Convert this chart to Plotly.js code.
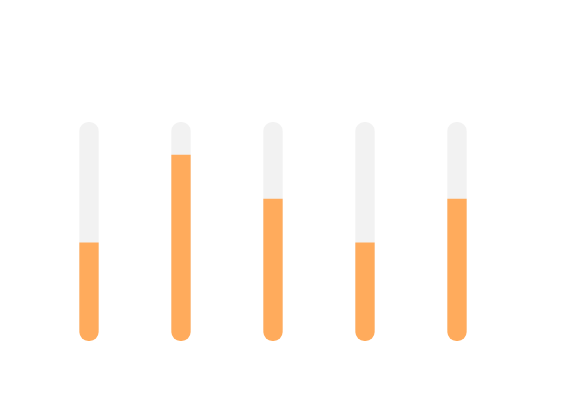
<!DOCTYPE html>
<html>
<head>
<meta charset="utf-8">
<script src="https://cdn.plot.ly/plotly-3.0.1.min.js"></script>
<style>html,body{margin:0;padding:0;background:#fff;}#chart{width:578px;height:408px;}</style>
</head>
<body>
<div id="chart"></div>
<script>
var categories = ['A', 'B', 'C', 'D', 'E'];
var values = [45, 85, 65, 45, 65];
var maxValue = 100;

// the axis is shifted by the height of the rounded bottom cap so that the
// cap can be drawn as a negative bar whose rounded end sits at value 0
var capH = 5;
var track = categories.map(function () { return maxValue - capH; });
var fill = values.map(function (v) { return v - capH; });
var cap = categories.map(function () { return -capH; });

var traces = [
  {
    type: 'bar', x: categories, y: track,
    marker: { color: '#f2f2f2', cornerradius: '50%', line: { width: 0 } },
    hoverinfo: 'skip'
  },
  {
    type: 'bar', x: categories, y: fill,
    marker: { color: '#ffab5c', line: { width: 0 } },
    hoverinfo: 'skip'
  },
  {
    type: 'bar', x: categories, y: cap,
    marker: { color: '#ffab5c', cornerradius: '50%', line: { width: 0 } },
    hoverinfo: 'skip'
  }
];

var layout = {
  width: 578, height: 408,
  margin: { l: 43, r: 75, t: 122, b: 67 },
  paper_bgcolor: '#ffffff', plot_bgcolor: '#ffffff',
  barmode: 'overlay', bargap: 0.79,
  showlegend: false,
  xaxis: { visible: false, showgrid: false, zeroline: false },
  yaxis: { visible: false, range: [-capH, maxValue - capH], showgrid: false, zeroline: false }
};

Plotly.newPlot('chart', traces, layout, { displayModeBar: false, staticPlot: true });
</script>
</body>
</html>
